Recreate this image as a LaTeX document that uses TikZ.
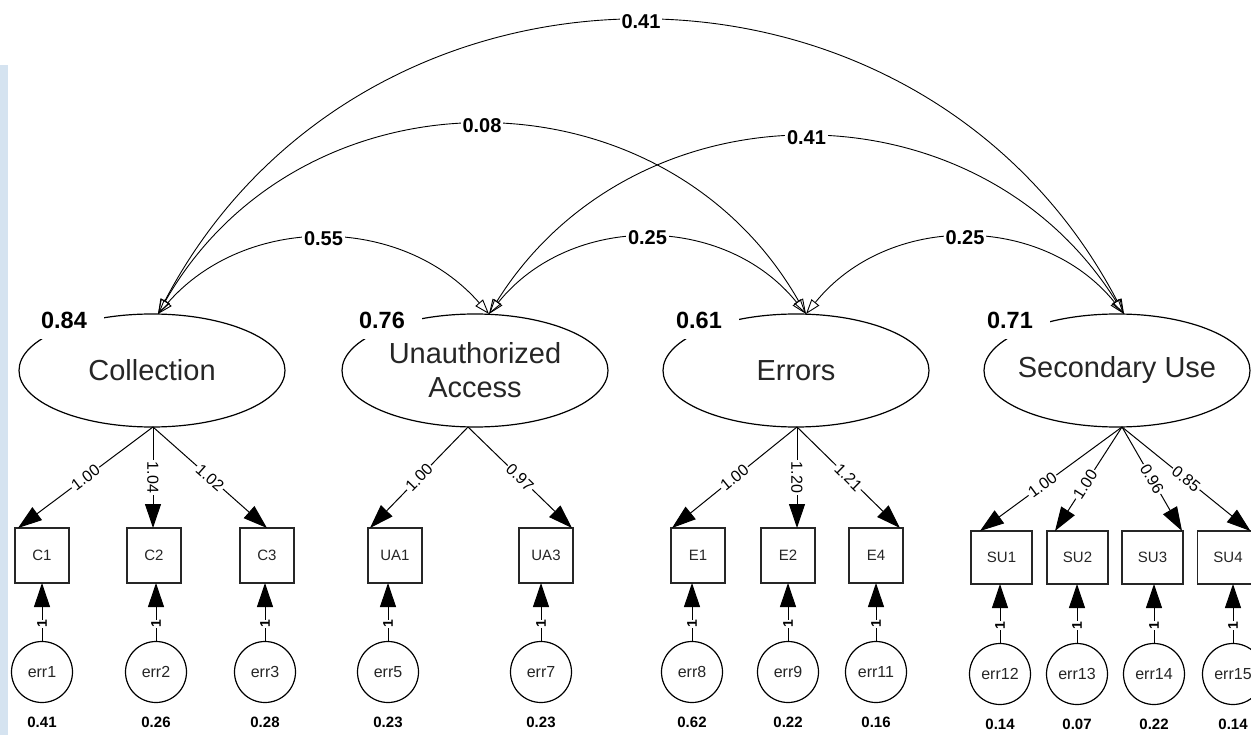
\documentclass[tikz,border=0pt]{standalone}
\usepackage{fontspec}
\setmainfont{Liberation Sans}
\usetikzlibrary{arrows.meta,shapes.geometric}
\newcommand\semfont[2]{\fontsize{#1}{#2}\selectfont}
\definecolor{stripblue}{RGB}{213,227,240}

\begin{document}
\begin{tikzpicture}[x=1pt,y=1pt,
  latent/.style={ellipse, draw=black, line width=1.2pt, minimum width=266pt,
    minimum height=113pt, inner sep=0pt, outer sep=0pt},
  lname/.style={align=center, inner sep=0pt, text=black!85, font={\semfont{29}{34}}},
  lvar/.style={fill=white, font={\bfseries\semfont{23.5}{24}}, text height=17pt,
    text depth=0pt, inner xsep=17pt, inner ysep=11pt},
  obs/.style={rectangle, draw=black!85, line width=1.6pt, minimum width=54pt,
    minimum height=55pt, inner sep=0pt, outer sep=0pt, text=black!85,
    font={\semfont{15}{15}}},
  obssu/.style={obs, minimum width=61pt, minimum height=53pt},
  errc/.style={circle, draw=black, line width=1.2pt, minimum size=61pt,
    inner sep=0pt, outer sep=0pt, text=black!85, font={\semfont{16}{16}}},
  evar/.style={inner sep=0pt, font={\bfseries\semfont{15}{15}}},
  load/.style={line width=1pt, -{Triangle[length=24pt,width=16pt]}},
  cov/.style={line width=0.9pt,
    {Triangle[open,length=15pt,width=10pt]}-{Triangle[open,length=15pt,width=10pt]}},
  covlab/.style={fill=white, inner xsep=2pt, inner ysep=1pt,
    font={\bfseries\semfont{20}{20}}},
  loadlab/.style={fill=white, inner sep=1.5pt, sloped, font={\semfont{16}{16}}},
  onelab/.style={fill=white, inner sep=0.5pt, sloped, font={\bfseries\semfont{14}{14}}},
]
\useasboundingbox (0,0) rectangle (1251,-735);
\clip (0,0) rectangle (1251,-735);
\fill[white] (0,0) rectangle (1251,-735);
\fill[stripblue] (0,-65) rectangle (8,-735);

% latent factors
\node[latent, label={[lname]center:Collection}] (lcol) at (152,-370.5) {};
\node[latent, label={[lname]center:Unauthorized\\Access}] (lua) at (475,-370.5) {};
\node[latent, label={[lname]center:Errors}] (lerr) at (796,-370.5) {};
\node[latent, label={[lname]center:Secondary Use}] (lsu) at (1117,-370.5) {};

% factor variances
\node[lvar] (vcol) at (64,-320) {0.84};
\node[lvar] (vua) at (382,-320) {0.76};
\node[lvar] (verr) at (699,-320) {0.61};
\node[lvar] (vsu) at (1010,-320) {0.71};

% attachment points of the paths
\coordinate (colT) at ([xshift=6pt]lcol.north);
\coordinate (uaT) at ([xshift=14pt]lua.north);
\coordinate (errT) at ([xshift=10pt]lerr.north);
\coordinate (suT) at ([xshift=7pt]lsu.north);
\coordinate (colB) at ([xshift=1pt]lcol.south);
\coordinate (uaB) at ([xshift=-7pt]lua.south);
\coordinate (errB) at ([xshift=1pt]lerr.south);
\coordinate (suB) at ([xshift=5pt]lsu.south);

% factor covariances
\draw[cov] (colT) to[out=48.8,in=131.2,distance=133.1pt] node[covlab] {0.55} (uaT);
\draw[cov] (uaT) to[out=51.2,in=128.8,distance=129.9pt] node[covlab] {0.25} (errT);
\draw[cov] (errT) to[out=51.1,in=128.9,distance=130.2pt] node[covlab] {0.25} (suT);
\draw[cov] (colT) to[out=60.3,in=119.7,distance=289pt] node[covlab] {0.08} (errT);
\draw[cov] (uaT) to[out=58,in=122,distance=276.7pt] node[covlab] {0.41} (suT);
\draw[cov] (colT) to[out=62.3,in=117.7,distance=439.7pt] node[covlab] {0.41} (suT);

% observed indicators
\node[obs] (c1) at (42,-555.5) {C1};
\node[obs] (c2) at (154,-555.5) {C2};
\node[obs] (c3) at (267,-555.5) {C3};
\node[obs] (ua1) at (395,-555.5) {UA1};
\node[obs] (ua3) at (546,-555.5) {UA3};
\node[obs] (e1) at (698,-555.5) {E1};
\node[obs] (e2) at (788,-555.5) {E2};
\node[obs] (e4) at (876,-555.5) {E4};
\node[obssu] (su1) at (1001.5,-557.5) {SU1};
\node[obssu] (su2) at (1077.5,-557.5) {SU2};
\node[obssu] (su3) at (1152.5,-557.5) {SU3};
\node[obssu] (su4) at (1228,-557.5) {SU4};

% loadings
\draw[load] (colB) -- node[loadlab] {1.00} ([xshift=3pt]c1.north west);
\draw[load] (colB) -- node[loadlab] {1.04} (colB |- c2.north);
\draw[load] (colB) -- node[loadlab] {1.02} (c3.north);
\draw[load] (uaB) -- node[loadlab] {1.00} ([xshift=2pt]ua1.north west);
\draw[load] (uaB) -- node[loadlab] {0.97} ([xshift=-1pt]ua3.north east);
\draw[load] (errB) -- node[loadlab] {1.00} ([xshift=1pt]e1.north west);
\draw[load] (errB) -- node[loadlab] {1.20} (errB |- e2.north);
\draw[load] (errB) -- node[loadlab] {1.21} ([xshift=-3pt]e4.north east);
\draw[load] (suB) -- node[loadlab, pos=0.56] {1.00} ([xshift=9pt]su1.north west);
\draw[load] (suB) -- node[loadlab, pos=0.55] {1.00} ([xshift=8pt]su2.north west);
\draw[load] (suB) -- node[loadlab] {0.96} ([xshift=-1pt]su3.north east);
\draw[load] (suB) -- node[loadlab] {0.85} ([xshift=-8pt]su4.north east);

% error terms
\foreach \n/\x/\y/\t/\v in {err1/42/672/c1/0.41, err2/156/672/c2/0.26,
    err3/265/672/c3/0.28, err5/388/672/ua1/0.23, err7/541/672/ua3/0.23,
    err8/692/672/e1/0.62, err9/788/672/e2/0.22, err11/876/672/e4/0.16,
    err12/1000/674/su1/0.14, err13/1077/674/su2/0.07, err14/1154/674/su3/0.22,
    err15/1233/674/su4/0.14}{
  \node[errc] (\n) at (\x,-\y) {\n};
  \node[evar] (v\n) at (\x,-\y-50) {\v};
  \draw[load] (\n) -- node[onelab, pos=0.3] {1} (\n |- \t.south);
}
\end{tikzpicture}
\end{document}
